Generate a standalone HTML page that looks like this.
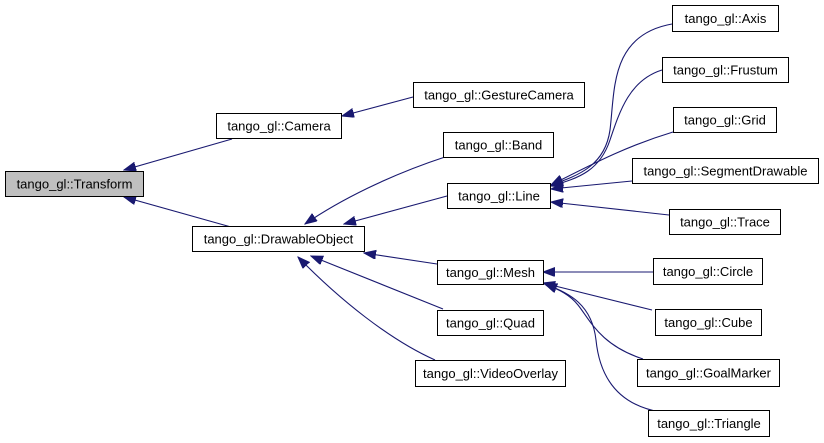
<!DOCTYPE html>
<html><head><meta charset="utf-8"><style>
html,body{margin:0;padding:0;background:#fff;}
svg{display:block;}
text{font-family:"Liberation Sans",Arial,sans-serif;font-size:13px;fill:#000;}
</style></head><body>
<svg width="824" height="443" viewBox="0 0 824 443" xmlns="http://www.w3.org/2000/svg">
<defs>
<marker id="a" markerUnits="userSpaceOnUse" markerWidth="13" markerHeight="10" refX="12" refY="4.5" orient="auto">
<path d="M0,0 L12,4.5 L0,9 z" fill="#191970" stroke="#191970" stroke-width="1"/>
</marker>
</defs>
<g fill="none" stroke="#191970" stroke-width="1.1" marker-end="url(#a)">
<path d="M232,139 L124,170"/>
<path d="M231,227 L124,197"/>
<path d="M413,97 L342,116"/>
<path d="M445,157 C390,175 340,200 305,224"/>
<path d="M447,196 L344,224"/>
<path d="M437,264 L364,253"/>
<path d="M443,309 L311,256"/>
<path d="M435,360 C390,340 340,300 298,257"/>
<path d="M672,24 C610,35 615,90 610,130 C605,165 580,175 551,185"/>
<path d="M662,70 C630,80 620,110 610,140 C600,170 580,178 551,186"/>
<path d="M673,132 C630,145 600,160 551,185"/>
<path d="M632,181 L551,189"/>
<path d="M669,215 L551,202"/>
<path d="M653,272 L543,272"/>
<path d="M652,310 L543,283"/>
<path d="M643,359 C600,345 590,320 578,305 C570,295 560,290 545,284"/>
<path d="M660,412 C620,405 600,380 596,340 C592,305 570,293 545,284"/>
</g>
<g stroke="#000" stroke-width="1">
<rect x="5.5" y="171.5" width="138" height="25" fill="#bfbfbf"/>
<rect x="216.5" y="113.5" width="125" height="25" fill="#fff"/>
<rect x="192.5" y="226.5" width="172" height="25" fill="#fff"/>
<rect x="413.5" y="82.5" width="171" height="25" fill="#fff"/>
<rect x="443.5" y="132.5" width="110" height="25" fill="#fff"/>
<rect x="447.5" y="183.5" width="103" height="25" fill="#fff"/>
<rect x="437.5" y="260.5" width="106" height="24" fill="#fff"/>
<rect x="437.5" y="310.5" width="106" height="25" fill="#fff"/>
<rect x="415.5" y="360.5" width="150" height="26" fill="#fff"/>
<rect x="672.5" y="5.5" width="106" height="26" fill="#fff"/>
<rect x="662.5" y="57.5" width="126" height="25" fill="#fff"/>
<rect x="673.5" y="107.5" width="103" height="25" fill="#fff"/>
<rect x="632.5" y="158.5" width="186" height="25" fill="#fff"/>
<rect x="669.5" y="209.5" width="111" height="25" fill="#fff"/>
<rect x="653.5" y="258.5" width="109" height="26" fill="#fff"/>
<rect x="655.5" y="309.5" width="106" height="26" fill="#fff"/>
<rect x="637.5" y="359.5" width="142" height="27" fill="#fff"/>
<rect x="648.5" y="410.5" width="121" height="26" fill="#fff"/>
</g>
<g text-anchor="middle">
<text x="74.5" y="188.5">tango_gl::Transform</text>
<text x="279" y="130.5">tango_gl::Camera</text>
<text x="278.5" y="243.5">tango_gl::DrawableObject</text>
<text x="499" y="99.5">tango_gl::GestureCamera</text>
<text x="498.5" y="149.5">tango_gl::Band</text>
<text x="499" y="200.5">tango_gl::Line</text>
<text x="490.5" y="277">tango_gl::Mesh</text>
<text x="490.5" y="327.5">tango_gl::Quad</text>
<text x="490.5" y="378">tango_gl::VideoOverlay</text>
<text x="725.5" y="23">tango_gl::Axis</text>
<text x="725.5" y="74.5">tango_gl::Frustum</text>
<text x="725" y="124.5">tango_gl::Grid</text>
<text x="725.5" y="175.5">tango_gl::SegmentDrawable</text>
<text x="725" y="226.5">tango_gl::Trace</text>
<text x="708" y="276">tango_gl::Circle</text>
<text x="708.5" y="327">tango_gl::Cube</text>
<text x="708.5" y="377.5">tango_gl::GoalMarker</text>
<text x="709" y="428">tango_gl::Triangle</text>
</g>
</svg>
</body></html>
